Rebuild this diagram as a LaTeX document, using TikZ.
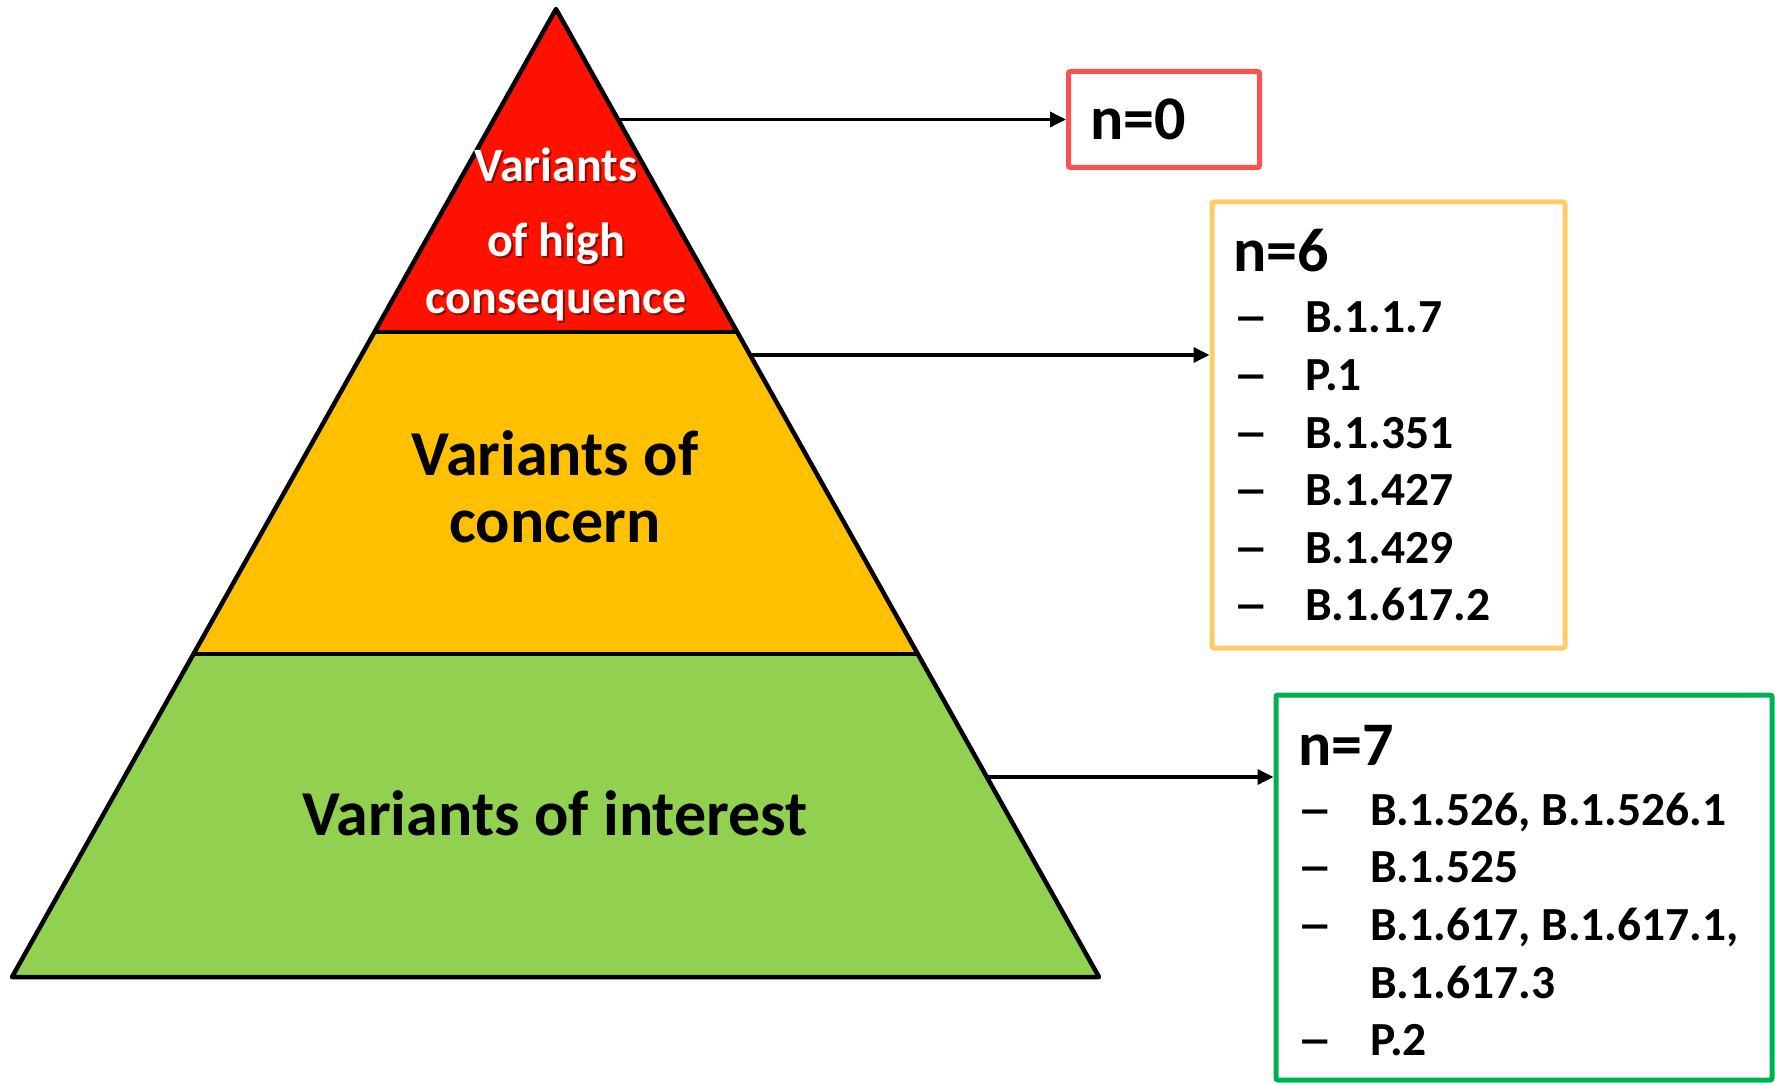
\documentclass[tikz,border=0pt]{standalone}
\usepackage{fontspec}
\usepackage{graphicx}
\setmainfont{Carlito}
\usetikzlibrary{arrows.meta}
\definecolor{cred}{HTML}{FF1100}
\definecolor{cyellow}{HTML}{FFC000}
\definecolor{cgreen}{HTML}{92D050}
\definecolor{bred}{HTML}{FF5050}
\definecolor{byellow}{HTML}{FFCC66}
\definecolor{bgreen}{HTML}{00B050}
\newcommand{\mydash}{\scalebox{1.5}[1]{–}}
\tikzset{
  layer/.style={draw=black,line width=4.5pt,line join=round},
  arr/.style={draw=black,line width=3.5pt,-{Triangle[length=16pt,width=15pt]}},
  nbox/.style={draw,line width=5pt,rounded corners=2pt,fill=white,inner sep=0pt},
  nlab/.style={font=\bfseries\fontsize{62}{74}\selectfont,inner sep=0pt,anchor=base west},
  big/.style={font=\bfseries\fontsize{64}{76}\selectfont,inner sep=0pt,anchor=base},
  item/.style={font=\bfseries\fontsize{47.5}{57}\selectfont,inner sep=0pt,anchor=base west},
  toptxt/.style={font=\bfseries\fontsize{48}{57}\selectfont,inner sep=0pt,anchor=base,text=white},
  shadowtxt/.style={font=\bfseries\fontsize{48}{57}\selectfont,inner sep=0pt,anchor=base,text=black,opacity=0.45},
}
\begin{document}
\begin{tikzpicture}[x=1pt,y=-1pt]
\useasboundingbox (0,0) rectangle (1775,1083);
% pyramid coordinates
\coordinate (apex) at (556,9);
\coordinate (l1) at (374,332);
\coordinate (r1) at (738,332);
\coordinate (l2) at (193,654);
\coordinate (r2) at (918,654);
\coordinate (bl) at (12,977);
\coordinate (br) at (1099,977);
% layers
\fill[cgreen] (l2) -- (r2) -- (br) -- (bl) -- cycle;
\fill[cyellow] (l1) -- (r1) -- (r2) -- (l2) -- cycle;
\fill[cred] (apex) -- (r1) -- (l1) -- cycle;
\draw[layer] (apex) -- (br) -- (bl) -- cycle;
\draw[layer] (l1) -- (r1);
\draw[layer] (l2) -- (r2);
% layer texts
\node[shadowtxt] (t1s) at (558,184) {Variants};
\node[toptxt] (t1) at (556,182) {Variants};
\node[shadowtxt] (t2s) at (558,259) {of high};
\node[toptxt] (t2) at (556,257) {of high};
\node[shadowtxt] (t3s) at (558,316) {consequence};
\node[toptxt] (t3) at (556,314) {consequence};
\node[big] (m1) at (555,475) {Variants of};
\node[big] (m2) at (555,542) {concern};
\node[big] (b1) at (555,835) {Variants of interest};
% boxes
\node[nbox,draw=bred,minimum width=191pt,minimum height=96pt] (box0) at (1164,119.5) {};
\node[nbox,draw=byellow,minimum width=353pt,minimum height=446pt] (box6) at (1388.5,425) {};
\node[nbox,draw=bgreen,minimum width=496pt,minimum height=385pt] (box7) at (1524,887.5) {};
% box texts
\node[nlab] (n0) at (1090,140) {n=0};
\node[nlab] (n6) at (1233,272) {n=6};
\foreach \y/\t [count=\i] in {333/B.1.1.7,390/P.1,448/B.1.351,505/B.1.427,563/B.1.429,620/B.1.617.2}{
  \node[item] (d6\i) at (1233,\y) {\mydash};
  \node[item] (i6\i) at (1305,\y) {\t};
}
\node[nlab] (n7) at (1298,765) {n=7};
\node[item] (d71) at (1297,825) {\mydash};
\node[item] (i71) at (1370,825) {B.1.526, B.1.526.1};
\node[item] (d72) at (1297,882) {\mydash};
\node[item] (i72) at (1370,882) {B.1.525};
\node[item] (d73) at (1297,940) {\mydash};
\node[item] (i73) at (1370,940) {B.1.617, B.1.617.1,};
\node[item] (i74) at (1370,998) {B.1.617.3};
\node[item] (d75) at (1297,1055) {\mydash};
\node[item] (i75) at (1370,1055) {P.2};
% arrows
\coordinate (s0) at (620,119.5);
\coordinate (s1) at (750,355);
\coordinate (s2) at (988,777);
\draw[arr] (s0) -- (box0.west);
\draw[arr] (s1) -- (s1 -| box6.west);
\draw[arr] (s2) -- (s2 -| box7.west);
\end{tikzpicture}
\end{document}
